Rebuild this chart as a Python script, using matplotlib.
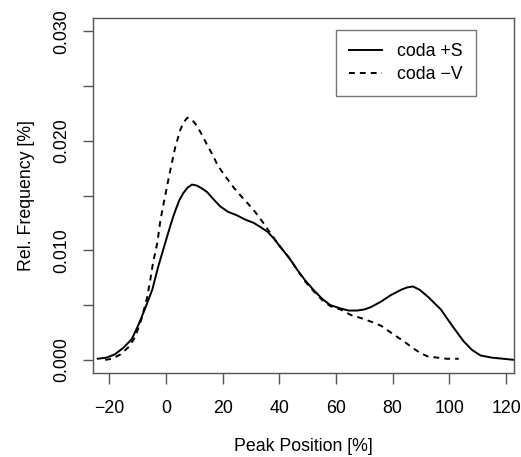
#densidade das posicoes de pico (estilo R)
import matplotlib
matplotlib.use("Agg")
import matplotlib.pyplot as plt

plt.rcParams['font.family'] = ['Liberation Sans', 'DejaVu Sans']

# coda +S (linha continua)
x_s = [-24, -21, -18, -15, -12, -9.5, -7.3, -4.8, -2.7, -0.2, 1.3, 2.5, 3.6, 4.8, 6.1, 7.6,
       9.2, 11, 13, 14.6, 17, 19.2, 22, 25, 28, 31, 33.5, 35.8, 38, 40.4, 43.5, 46.4,
       49, 52, 55, 58, 61.5, 64.5, 67.5, 70, 72.2, 75.8, 79.3, 83, 85, 87.1, 89.5, 92.7,
       95, 97, 99.4, 101.6, 105, 108, 111, 115, 119, 122.8]
y_s = [0.0001, 0.0002, 0.0005, 0.0011, 0.0019, 0.0033, 0.0047, 0.0064, 0.0085, 0.0107,
       0.0120, 0.0130, 0.0138, 0.0146, 0.0152, 0.0157, 0.0160, 0.0159, 0.0156, 0.0153,
       0.0146, 0.0140, 0.0135, 0.0132, 0.0128, 0.0125, 0.0121, 0.0117, 0.0111, 0.0103,
       0.0093, 0.0082, 0.0073, 0.0064, 0.0056, 0.0050, 0.0047, 0.0045, 0.0045, 0.0046,
       0.0048, 0.0053, 0.0059, 0.0064, 0.0066, 0.0067, 0.0064, 0.0057, 0.0051, 0.0046,
       0.0037, 0.0029, 0.0017, 0.0009, 0.0004, 0.0002, 0.0001, 0.0000]

# coda -V (tracejada)
x_v = [-21.4, -19, -16, -13, -10.8, -8.5, -6.6, -5.5, -4.5, -3, -2, -1, 0, 1, 2.3, 3.3,
       5.1, 6.3, 7.6, 9.3, 11.1, 12.8, 14.6, 16.5, 18.2, 20, 22, 24, 26, 28.8, 31.5,
       34.1, 37, 40.4, 43.5, 46.4, 49, 52, 55, 58, 61.6, 65.2, 69, 73.3, 76, 78.2, 81,
       83.9, 87, 89.9, 92.5, 95.9, 99, 103.3]
y_v = [0.0000, 0.0001, 0.0005, 0.0012, 0.0021, 0.0038, 0.0057, 0.0073, 0.0089, 0.0107,
       0.0126, 0.0140, 0.0153, 0.0166, 0.0182, 0.0194, 0.0210, 0.0217, 0.0221, 0.0219,
       0.0213, 0.0205, 0.0196, 0.0187, 0.0178, 0.0171, 0.0164, 0.0157, 0.0151, 0.0143,
       0.0135, 0.0126, 0.0115, 0.0103, 0.0093, 0.0082, 0.0072, 0.0063, 0.0055, 0.0049,
       0.0046, 0.0041, 0.0038, 0.0034, 0.0031, 0.0027, 0.0022, 0.0017, 0.0011, 0.0006,
       0.0003, 0.0002, 0.0001, 0.0001]

xticks = [-20, 0, 20, 40, 60, 80, 100, 120]
yticks = [0.000, 0.005, 0.010, 0.015, 0.020, 0.025, 0.030]
ylabels = ["0.000", "", "0.010", "", "0.020", "", "0.030"]

cinza = "#555555"

fig = plt.figure(figsize=(5.21, 4.57), dpi=100)
ax = fig.add_axes([0.1785, 0.1838, 0.8081, 0.7768])

ax.plot(x_s, y_s, color="k", lw=1.4, label="coda +S")
ax.plot(x_v, y_v, color="k", lw=1.4, linestyle=(0, (3, 2.6)), label="coda \u2212V")

ax.set_xlim(-25.7, 122.8)
ax.set_ylim(-0.0012, 0.0312)
ax.set_xticks(xticks)
ax.set_xticklabels([str(t).replace("-", "\u2212") for t in xticks])
ax.set_yticks(yticks)
ax.set_yticklabels(ylabels, rotation=90, va="center")

for s in ax.spines.values():
    s.set_color(cinza)
    s.set_linewidth(1.0)
ax.tick_params(axis="both", direction="out", color=cinza, width=1.0, labelsize=12.8)
ax.tick_params(axis="x", length=8, pad=11.5)
ax.tick_params(axis="y", length=7.5, pad=9)

ax.set_xlabel("Peak Position [%]", fontsize=12.8, labelpad=15)
ax.set_ylabel("Rel. Frequency [%]", fontsize=12.8, labelpad=13)

leg = ax.legend(loc="upper left", bbox_to_anchor=(0.577, 0.966), fontsize=12.8,
                frameon=True, fancybox=False, edgecolor=cinza, handlelength=1.85,
                handletextpad=0.85, borderpad=0.75, labelspacing=0.3, borderaxespad=0)
leg.get_frame().set_linewidth(1.0)

plt.savefig("out.png", dpi=100)
